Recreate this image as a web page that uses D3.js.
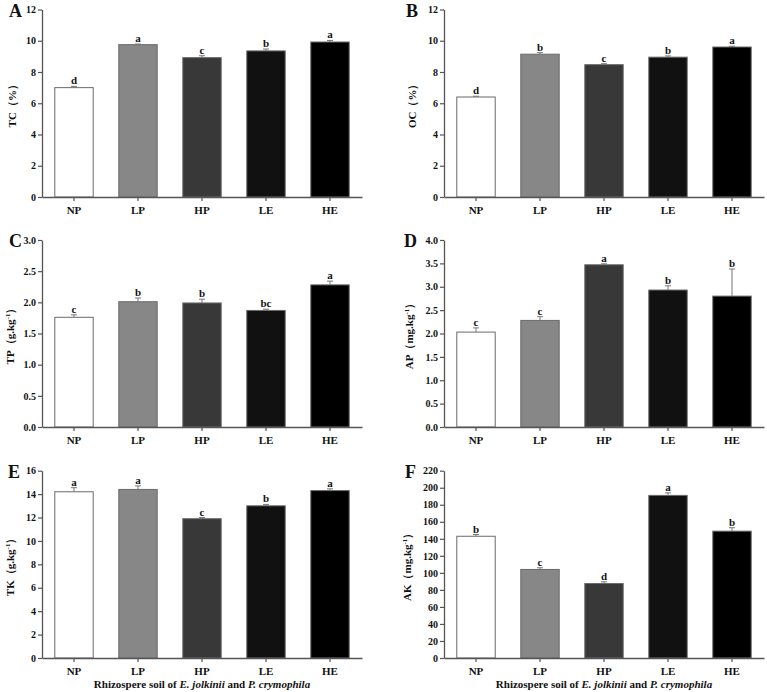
<!DOCTYPE html>
<html>
<head>
<meta charset="utf-8">
<script src="https://cdn.jsdelivr.net/npm/d3@7"></script>
<style>
  body { margin: 0; background: #fff; }
  svg text { font-family: "Liberation Serif", "Times New Roman", serif; font-weight: bold; fill: #111; }
</style>
</head>
<body>
<svg id="chart" width="767" height="692"></svg>
<script>
// ---------------- data ----------------
var groups = ["NP", "LP", "HP", "LE", "HE"];
var barFills = ["#ffffff", "#878787", "#383838", "#111111", "#000000"];

var tcMeans = [7.0, 9.75, 8.92, 9.35, 9.92];
var tcErr = [0.08, 0.04, 0.12, 0.12, 0.1];
var tcLetters = ["d", "a", "c", "b", "a"];

var ocMeans = [6.4, 9.14, 8.47, 8.95, 9.6];
var ocErr = [0.05, 0.1, 0.06, 0.08, 0.05];
var ocLetters = ["d", "b", "c", "b", "a"];

var tpMeans = [1.76, 2.01, 1.99, 1.87, 2.28];
var tpErr = [0.04, 0.06, 0.06, 0.02, 0.06];
var tpLetters = ["c", "b", "b", "bc", "a"];

var apMeans = [2.03, 2.28, 3.47, 2.93, 2.8];
var apErr = [0.09, 0.08, 0.02, 0.09, 0.58];
var apLetters = ["c", "c", "a", "b", "b"];

var tkMeans = [14.2, 14.4, 11.9, 13.0, 14.3];
var tkErr = [0.35, 0.3, 0.1, 0.12, 0.15];
var tkLetters = ["a", "a", "c", "b", "a"];

var akMeans = [143, 104, 87.5, 191, 149];
var akErr = [2, 2, 2, 3, 4];
var akLetters = ["b", "c", "d", "a", "b"];

var svg = d3.select("#chart");

// ---------------- one panel ----------------
function drawPanel(opt) {
  var x = d3.scaleBand().domain(groups).range([opt.left, opt.left + 320])
      .paddingInner(0.4).paddingOuter(0.2);
  var y = d3.scaleLinear().domain([0, opt.max]).range([opt.bottom, opt.top]);
  var g = svg.append("g");

  // bars
  g.selectAll("rect.bar").data(opt.means).enter().append("rect")
      .attr("class", "bar")
      .attr("x", function(d, i) { return x(groups[i]); })
      .attr("y", function(d) { return y(d); })
      .attr("width", x.bandwidth())
      .attr("height", function(d) { return y(0) - y(d); })
      .style("fill", function(d, i) { return barFills[i]; })
      .style("stroke", "#6a6a6a")
      .style("stroke-width", 1);

  // error bars (upper only)
  var cx = function(i) { return x(groups[i]) + x.bandwidth() / 2; };
  g.selectAll("line.err").data(opt.means).enter().append("line")
      .attr("x1", function(d, i) { return cx(i); })
      .attr("x2", function(d, i) { return cx(i); })
      .attr("y1", function(d) { return y(d); })
      .attr("y2", function(d, i) { return y(d + opt.err[i]); })
      .style("stroke", "#777").style("stroke-width", 1);
  g.selectAll("line.cap").data(opt.means).enter().append("line")
      .attr("x1", function(d, i) { return cx(i) - 3; })
      .attr("x2", function(d, i) { return cx(i) + 3; })
      .attr("y1", function(d, i) { return y(d + opt.err[i]); })
      .attr("y2", function(d, i) { return y(d + opt.err[i]); })
      .style("stroke", "#777").style("stroke-width", 1);

  // significance letters
  g.selectAll("text.sig").data(opt.means).enter().append("text")
      .attr("x", function(d, i) { return cx(i); })
      .attr("y", function(d, i) { return y(d + opt.err[i]) - 2; })
      .attr("text-anchor", "middle")
      .style("font-size", "11px")
      .text(function(d, i) { return opt.letters[i]; });

  // axes
  var yAxis = g.append("g")
      .attr("transform", "translate(" + opt.left + ",0)")
      .call(d3.axisLeft(y).tickValues(opt.ticks).tickSize(4).tickSizeOuter(0)
            .tickFormat(d3.format(opt.fmt)));
  var xAxis = g.append("g")
      .attr("transform", "translate(0," + opt.bottom + ")")
      .call(d3.axisBottom(x).tickSize(4).tickSizeOuter(0));
  [yAxis, xAxis].forEach(function(a) {
    a.select(".domain").style("stroke", "#555").style("stroke-width", 1.3);
    a.selectAll(".tick line").style("stroke", "#555").style("stroke-width", 1.2);
    a.selectAll("text").style("font-family", "Liberation Serif, serif")
        .style("font-weight", "bold").style("fill", "#111");
  });
  yAxis.selectAll("text").style("font-size", "10px").attr("x", -6);
  xAxis.selectAll("text").style("font-size", "11px").attr("y", 9);

  // y title
  var t = g.append("text")
      .attr("transform", "translate(" + opt.titleX + "," + ((opt.top + opt.bottom) / 2) + ") rotate(-90)")
      .attr("text-anchor", "middle")
      .style("font-size", "11px");
  t.append("tspan").text(opt.title);
  if (opt.sup) {
    t.append("tspan").attr("dy", -4).style("font-size", "7px").text(opt.sup);
    t.append("tspan").attr("dy", 4).text("）");
  }

  // panel letter
  g.append("text")
      .attr("x", opt.letterX).attr("y", opt.top + 7)
      .style("font-size", "18px")
      .text(opt.label);

  // x title
  if (opt.xTitle) {
    var xt = g.append("text")
        .attr("x", opt.left + 160).attr("y", 688)
        .attr("text-anchor", "middle")
        .style("font-size", "11px");
    xt.append("tspan").text("Rhizospere soil of ");
    xt.append("tspan").style("font-style", "italic").text("E. jolkinii");
    xt.append("tspan").text(" and ");
    xt.append("tspan").style("font-style", "italic").text("P. crymophila");
  }
}

// ---------------- draw all six ----------------
drawPanel({ label: "A", left: 42, top: 9.5, bottom: 197, max: 12, ticks: d3.range(0, 13, 2), fmt: "d",
  means: tcMeans, err: tcErr, letters: tcLetters, title: "TC（%）", titleX: 16, letterX: 9 });
drawPanel({ label: "B", left: 444, top: 9.5, bottom: 197, max: 12, ticks: d3.range(0, 13, 2), fmt: "d",
  means: ocMeans, err: ocErr, letters: ocLetters, title: "OC（%）", titleX: 416, letterX: 406 });
drawPanel({ label: "C", left: 42, top: 240, bottom: 427, max: 3, ticks: d3.range(0, 3.01, 0.5), fmt: ".1f",
  means: tpMeans, err: tpErr, letters: tpLetters, title: "TP（g.kg", sup: "-1", titleX: 14, letterX: 9 });
drawPanel({ label: "D", left: 444, top: 240, bottom: 427, max: 4, ticks: d3.range(0, 4.01, 0.5), fmt: ".1f",
  means: apMeans, err: apErr, letters: apLetters, title: "AP（mg.kg", sup: "-1", titleX: 413, letterX: 404 });
drawPanel({ label: "E", left: 42, top: 470.7, bottom: 658, max: 16, ticks: d3.range(0, 17, 2), fmt: "d",
  means: tkMeans, err: tkErr, letters: tkLetters, title: "TK（g.kg", sup: "-1", titleX: 14, letterX: 8, xTitle: true });
drawPanel({ label: "F", left: 444, top: 470.7, bottom: 658, max: 220, ticks: d3.range(0, 221, 20), fmt: "d",
  means: akMeans, err: akErr, letters: akLetters, title: "AK（mg.kg", sup: "-1", titleX: 411, letterX: 405, xTitle: true });
</script>
</body>
</html>
